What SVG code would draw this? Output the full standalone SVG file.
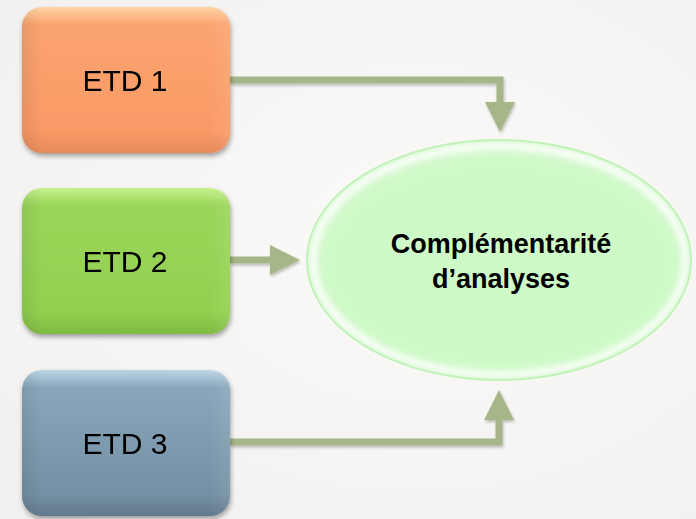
<svg xmlns="http://www.w3.org/2000/svg" width="696" height="519" viewBox="0 0 696 519">
<defs>
<style>
.lbl{font-family:"Liberation Sans",Arial,sans-serif;font-size:30px;fill:#000;text-anchor:middle}
.big{font-family:"Liberation Sans",Arial,sans-serif;font-size:27px;font-weight:bold;fill:#000;text-anchor:middle}
.conn{fill:none;stroke:#a6b689;stroke-width:7}
.head{fill:#a6b689}
</style>
<radialGradient id="bg" cx="0.6" cy="0.45" r="0.8">
<stop offset="0" stop-color="#fbfaf8"/>
<stop offset="1" stop-color="#f1f0ee"/>
</radialGradient>
<linearGradient id="g1" x1="0" y1="0" x2="0" y2="1">
<stop offset="0" stop-color="#ffd4a4"/><stop offset="0.12" stop-color="#fba470"/><stop offset="0.85" stop-color="#f99a66"/><stop offset="1" stop-color="#e48a5a"/>
</linearGradient>
<linearGradient id="g2" x1="0" y1="0" x2="0" y2="1">
<stop offset="0" stop-color="#c8f090"/><stop offset="0.12" stop-color="#9ad65a"/><stop offset="0.85" stop-color="#92d050"/><stop offset="1" stop-color="#7fba42"/>
</linearGradient>
<linearGradient id="g3" x1="0" y1="0" x2="0" y2="1">
<stop offset="0" stop-color="#bcd6e8"/><stop offset="0.12" stop-color="#8aa6bb"/><stop offset="0.85" stop-color="#7490a4"/><stop offset="1" stop-color="#62798c"/>
</linearGradient>
<linearGradient id="side" x1="0" y1="0" x2="1" y2="0">
<stop offset="0" stop-color="#000" stop-opacity="0.07"/><stop offset="0.1" stop-color="#000" stop-opacity="0"/><stop offset="0.9" stop-color="#fff" stop-opacity="0"/><stop offset="1" stop-color="#fff" stop-opacity="0.08"/>
</linearGradient>
<filter id="sh" x="-10%" y="-10%" width="130%" height="130%">
<feGaussianBlur in="SourceAlpha" stdDeviation="2.5"/>
<feOffset dx="1" dy="3" result="b"/>
<feComponentTransfer><feFuncA type="linear" slope="0.35"/></feComponentTransfer>
<feMerge><feMergeNode/><feMergeNode in="SourceGraphic"/></feMerge>
</filter>
<filter id="ash" x="-10%" y="-30%" width="130%" height="160%">
<feGaussianBlur in="SourceAlpha" stdDeviation="1.5"/>
<feOffset dx="1" dy="2"/>
<feComponentTransfer><feFuncA type="linear" slope="0.25"/></feComponentTransfer>
<feMerge><feMergeNode/><feMergeNode in="SourceGraphic"/></feMerge>
</filter>
<filter id="blur"><feGaussianBlur stdDeviation="3"/></filter>
</defs>
<rect width="696" height="519" fill="url(#bg)"/>

<g id="connectors" filter="url(#ash)">
<path class="conn" d="M230 80 H500 V104"/>
<polygon class="head" points="485,102 515,102 500,132"/>
<path class="conn" d="M230 260 H272"/>
<polygon class="head" points="270,245 270,275 300,260"/>
<path class="conn" d="M230 442 H499 V418"/>
<polygon class="head" points="484,420 514,420 499,390"/>
</g>

<g id="etd1" filter="url(#sh)">
<rect x="22" y="7" width="208" height="146" rx="20" fill="url(#g1)"/>
<rect x="22" y="7" width="208" height="146" rx="20" fill="url(#side)"/>
<text class="lbl" x="125" y="91">ETD 1</text>
</g>
<g id="etd2" filter="url(#sh)">
<rect x="22" y="188" width="208" height="146" rx="20" fill="url(#g2)"/>
<rect x="22" y="188" width="208" height="146" rx="20" fill="url(#side)"/>
<text class="lbl" x="125" y="272">ETD 2</text>
</g>
<g id="etd3" filter="url(#sh)">
<rect x="22" y="370" width="208" height="146" rx="20" fill="url(#g3)"/>
<rect x="22" y="370" width="208" height="146" rx="20" fill="url(#side)"/>
<text class="lbl" x="125" y="454">ETD 3</text>
</g>

<g id="result">
<ellipse cx="499" cy="260" rx="193" ry="121" fill="#d3f8cc"/>
<ellipse cx="499" cy="260" rx="186" ry="114" fill="none" stroke="#ffffff" stroke-width="7" filter="url(#blur)"/>
<ellipse cx="499" cy="260" rx="192" ry="120" fill="none" stroke="#c4f2bb" stroke-width="2"/>
<ellipse cx="501" cy="264" rx="178" ry="106" fill="#ccfcc6" opacity="0.6" filter="url(#blur)"/>
<text class="big" x="501" y="253">Complémentarité</text>
<text class="big" x="501" y="288">d’analyses</text>
</g>
</svg>
